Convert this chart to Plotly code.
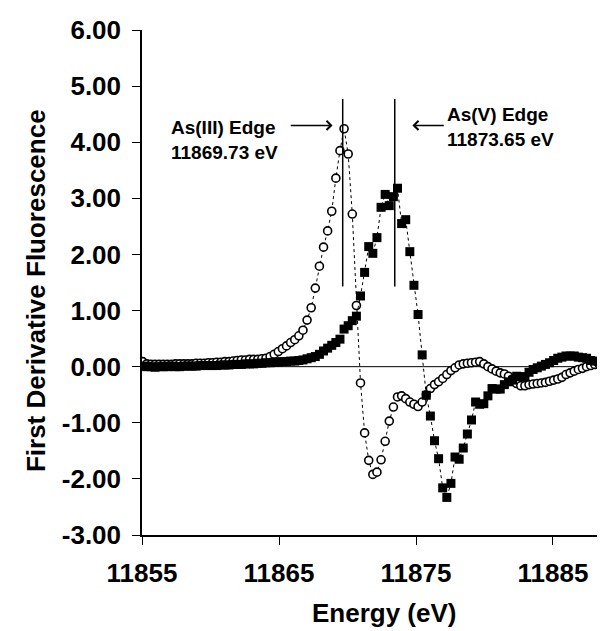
import plotly.graph_objects as go

# Energy grid (eV)
energy = [
    11855.05, 11855.35, 11855.65, 11855.95, 11856.25, 11856.55, 11856.85, 11857.15, 11857.45, 11857.75,
    11858.05, 11858.35, 11858.65, 11858.95, 11859.25, 11859.55, 11859.85, 11860.15, 11860.45, 11860.75,
    11861.05, 11861.35, 11861.65, 11861.95, 11862.25, 11862.55, 11862.85, 11863.15, 11863.45, 11863.75,
    11864.05, 11864.35, 11864.65, 11864.95, 11865.25, 11865.55, 11865.85, 11866.15, 11866.45, 11866.75,
    11867.05, 11867.35, 11867.65, 11867.95, 11868.25, 11868.55, 11868.85, 11869.15, 11869.45, 11869.75,
    11870.05, 11870.35, 11870.65, 11870.95, 11871.25, 11871.55, 11871.85, 11872.15, 11872.45, 11872.75,
    11873.05, 11873.35, 11873.65, 11873.95, 11874.25, 11874.55, 11874.85, 11875.15, 11875.45, 11875.75,
    11876.05, 11876.35, 11876.65, 11876.95, 11877.25, 11877.55, 11877.85, 11878.15, 11878.45, 11878.75,
    11879.05, 11879.35, 11879.65, 11879.95, 11880.25, 11880.55, 11880.85, 11881.15, 11881.45, 11881.75,
    11882.05, 11882.35, 11882.65, 11882.95, 11883.25, 11883.55, 11883.85, 11884.15, 11884.45, 11884.75,
    11885.05, 11885.35, 11885.65, 11885.95, 11886.25, 11886.55, 11886.85, 11887.15, 11887.45, 11887.75,
    11888.05, 11888.35, 11888.65, 11888.95, 11889.25,
]

# As(III) standard - open circles
as3 = [
    0.09, 0.05, 0.04, 0.04, 0.04, 0.04, 0.04, 0.04, 0.05, 0.05,
    0.05, 0.05, 0.05, 0.06, 0.06, 0.06, 0.07, 0.07, 0.08, 0.08,
    0.09, 0.09, 0.10, 0.11, 0.12, 0.12, 0.13, 0.13, 0.13, 0.14,
    0.15, 0.18, 0.22, 0.27, 0.32, 0.37, 0.43, 0.48, 0.55, 0.65,
    0.83, 1.05, 1.40, 1.79, 2.13, 2.42, 2.77, 3.36, 3.85, 4.24,
    3.79, 2.72, 1.09, -0.29, -1.18, -1.67, -1.92, -1.88, -1.66, -1.33,
    -0.97, -0.72, -0.54, -0.52, -0.57, -0.63, -0.67, -0.71, -0.63, -0.50,
    -0.39, -0.32, -0.27, -0.21, -0.14, -0.07, -0.02, 0.03, 0.05, 0.06,
    0.07, 0.08, 0.09, 0.05, 0.00, -0.04, -0.08, -0.11, -0.13, -0.17,
    -0.22, -0.30, -0.34, -0.34, -0.32, -0.31, -0.30, -0.29, -0.28, -0.26,
    -0.24, -0.22, -0.19, -0.14, -0.11, -0.08, -0.05, -0.03, 0.00, 0.02,
    0.04, 0.05, 0.05, 0.04, 0.04,
]

# As(V) standard - filled squares
as5 = [
    0.01, 0.00, 0.00, -0.01, 0.00, 0.00, 0.00, 0.01, 0.00, 0.00,
    0.01, 0.01, 0.01, 0.01, 0.02, 0.02, 0.02, 0.02, 0.02, 0.03,
    0.03, 0.03, 0.04, 0.04, 0.04, 0.05, 0.05, 0.05, 0.06, 0.06,
    0.07, 0.07, 0.08, 0.08, 0.09, 0.09, 0.10, 0.10, 0.11, 0.12,
    0.14, 0.16, 0.18, 0.22, 0.28, 0.33, 0.38, 0.43, 0.49, 0.67,
    0.73, 0.82, 0.90, 1.26, 1.68, 2.14, 2.02, 2.30, 2.84, 3.07,
    2.87, 3.03, 3.18, 2.55, 2.62, 2.05, 1.45, 0.93, 0.21, -0.51,
    -0.88, -1.32, -1.64, -2.16, -2.33, -2.08, -1.61, -1.65, -1.45, -1.20,
    -0.95, -0.63, -0.67, -0.66, -0.52, -0.39, -0.40, -0.40, -0.32, -0.27,
    -0.24, -0.17, -0.18, -0.18, -0.10, -0.05, -0.02, 0.01, 0.04, 0.07,
    0.11, 0.15, 0.17, 0.19, 0.19, 0.19, 0.17, 0.16, 0.15, 0.11,
    0.10, 0.09, 0.05, 0.04, 0.04,
]

x_ticks = [11855, 11865, 11875, 11885]
y_ticks = [-3, -2, -1, 0, 1, 2, 3, 4, 5, 6]
y_tick_labels = ["-3.00", "-2.00", "-1.00", "0.00", "1.00", "2.00", "3.00", "4.00", "5.00", "6.00"]

edge_as3 = 11869.65
edge_as5 = 11873.45
edge_line_y = [1.43, 4.77]

FONT = "Liberation Sans, Arial, Helvetica, sans-serif"

fig = go.Figure()

fig.add_trace(go.Scatter(
    x=energy, y=as3, mode="lines+markers", name="As(III)",
    line=dict(color="black", width=1, dash="dot"),
    marker=dict(symbol="circle", size=8, color="white", line=dict(color="black", width=1.6)),
))
fig.add_trace(go.Scatter(
    x=energy, y=as5, mode="lines+markers", name="As(V)",
    line=dict(color="black", width=1, dash="dot"),
    marker=dict(symbol="square", size=9, color="black", line=dict(width=0)),
))

x_max = 11889.38

fig.add_shape(type="line", x0=11855, x1=x_max, y0=0, y1=0, line=dict(color="black", width=1), layer="below")
for ex in (edge_as3, edge_as5):
    fig.add_shape(type="line", x0=ex, x1=ex, y0=edge_line_y[0], y1=edge_line_y[1],
                  line=dict(color="black", width=1.5))

ann_font = dict(family=FONT, size=19, color="black", weight="bold")
fig.add_annotation(x=11857.0, y=4.04, xref="x", yref="y", text="As(III) Edge<br>11869.73 eV",
                   showarrow=False, xanchor="left", yanchor="middle", align="left", font=ann_font)
fig.add_annotation(x=11877.15, y=4.27, xref="x", yref="y", text="As(V) Edge<br>11873.65 eV",
                   showarrow=False, xanchor="left", yanchor="middle", align="left", font=ann_font)
# arrows
fig.add_annotation(x=11868.91, y=4.30, ax=11865.75, ay=4.30, xref="x", yref="y", axref="x", ayref="y",
                   text="", showarrow=True, arrowhead=4, arrowsize=1.2, arrowwidth=1.5, arrowcolor="black",
                   standoff=0, startstandoff=0)
fig.add_annotation(x=11874.74, y=4.30, ax=11877.14, ay=4.30, xref="x", yref="y", axref="x", ayref="y",
                   text="", showarrow=True, arrowhead=4, arrowsize=1.2, arrowwidth=1.5, arrowcolor="black",
                   standoff=0, startstandoff=0)

title_font = dict(family=FONT, size=26, color="black", weight="bold")
fig.add_annotation(x=0.514, y=0, xref="paper", yref="paper", text="Energy (eV)", showarrow=False,
                   xanchor="center", yanchor="middle", yshift=-78, font=title_font)
fig.add_annotation(x=0, y=0.483, xref="paper", yref="paper", text="First Derivative Fluorescence",
                   showarrow=False, textangle=-90, xanchor="center", yanchor="middle", xshift=-106,
                   font=title_font)

tick_font = dict(family=FONT, size=26, color="black", weight="bold")
fig.update_layout(
    width=605, height=631,
    margin=dict(l=134, r=0, t=22, b=104),
    paper_bgcolor="white", plot_bgcolor="white",
    showlegend=False,
    xaxis=dict(range=[11855, x_max], tickvals=x_ticks, ticktext=[str(v) for v in x_ticks],
               showline=True, linecolor="black", linewidth=1.5, ticks="outside", ticklen=8,
               tickwidth=1, tickcolor="black", showgrid=False, zeroline=False,
               tickfont=tick_font, ticklabelstandoff=6),
    yaxis=dict(range=[-3, 6], tickvals=y_ticks, ticktext=y_tick_labels,
               showline=True, linecolor="black", linewidth=1.5, ticks="outside", ticklen=8,
               tickwidth=1, tickcolor="black", showgrid=False, zeroline=False,
               tickfont=tick_font, ticklabelstandoff=6),
)

fig.write_html("out.html")
